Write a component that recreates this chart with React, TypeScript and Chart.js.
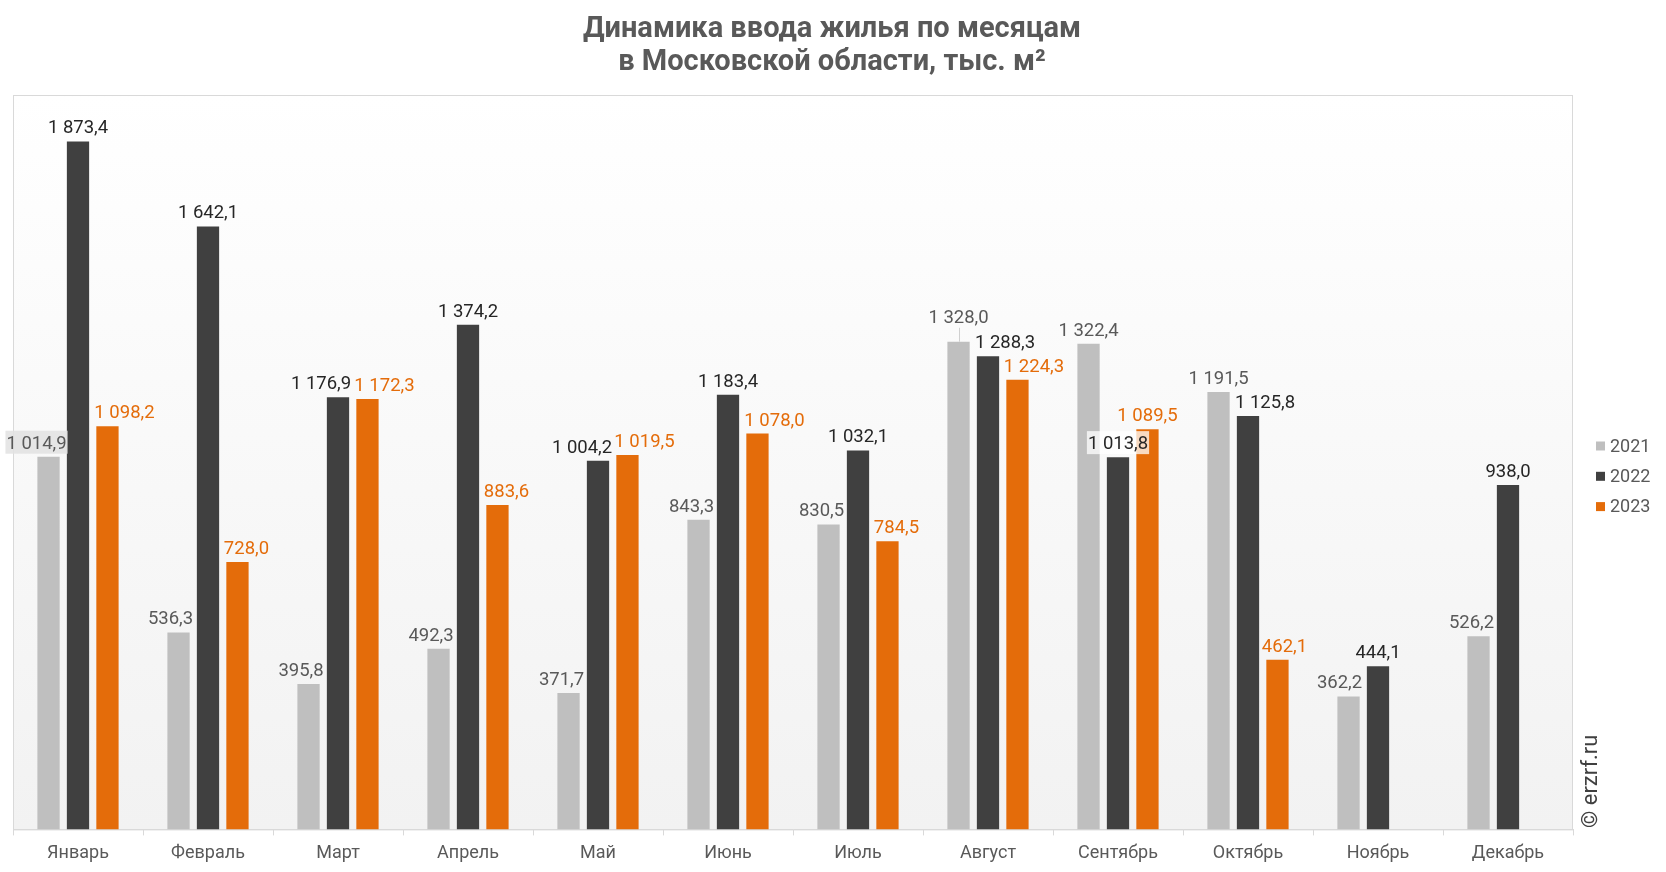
import React, { useEffect, useRef } from "react";
import { Chart, registerables } from "chart.js";

Chart.register(...registerables);

// ---------- data ----------
const categories = [
  "Январь", "Февраль", "Март", "Апрель", "Май", "Июнь",
  "Июль", "Август", "Сентябрь", "Октябрь", "Ноябрь", "Декабрь",
];
const seriesNames = ["2021", "2022", "2023"];
const values2021 = [1014.9, 536.3, 395.8, 492.3, 371.7, 843.3, 830.5, 1328.0, 1322.4, 1191.5, 362.2, 526.2];
const values2022 = [1873.4, 1642.1, 1176.9, 1374.2, 1004.2, 1183.4, 1032.1, 1288.3, 1013.8, 1125.8, 444.1, 938.0];
const values2023 = [1098.2, 728.0, 1172.3, 883.6, 1019.5, 1078.0, 784.5, 1224.3, 1089.5, 462.1, null, null];
const titleLines = ["Динамика ввода жилья по месяцам", "в Московской области, тыс. м²"];
const copyright = "© erzrf.ru";
const yMin = 0;
const yMax = 2000;

// ---------- styles ----------
const FONT = "Roboto, 'Noto Sans', sans-serif";
const barColors = ["#BFBFBF", "#404040", "#E46C0A"];
const labelColors = ["#595959", "#262626", "#E46C0A"];
// horizontal / vertical nudges of data labels (as placed in the original)
const labelDx = [
  [-12, -8, -7.5, -7.5, -7, -7, -7, 0, 0, 0, -9, -7],
  [0, 0, -17, 0, -16, 0, 0, 17, 0, 17, 0, 0],
  [17, 9, 17, 9, 17, 17, 9, 16.5, 0, 7, 0, 0],
];
const labelDy = [
  [0, 0, 0, 0, 0, 0, 0, -11, 0, 0, 0, 0],
  [0, 0, 0, 0, 0, 0, 0, 0, 0, 0, 0, 0],
  [0, 0, 0, 0, 0, 0, 0, 0, 0, 0, 0, 0],
];
const labelBg: Record<string, string> = {
  "0-0": "rgba(226,226,226,0.85)",
  "1-8": "rgba(255,255,255,0.75)",
};

const W = 1666;
const H = 872;

function fmt(v: number): string {
  const [i, d] = v.toFixed(1).split(".");
  return i.replace(/\B(?=(\d{3})+(?!\d))/g, " ") + "," + d;
}

const backgroundPlugin = {
  id: "bgPlot",
  beforeDraw(chart: any) {
    const { ctx, chartArea: a } = chart;
    ctx.save();
    ctx.fillStyle = "#FFFFFF";
    ctx.fillRect(0, 0, chart.width, chart.height);
    const g = ctx.createLinearGradient(0, a.top, 0, a.bottom);
    g.addColorStop(0, "#FFFFFF");
    g.addColorStop(1, "#F2F2F2");
    ctx.fillStyle = g;
    ctx.fillRect(a.left, a.top, a.right - a.left, a.bottom - a.top);
    ctx.strokeStyle = "#D9D9D9";
    ctx.lineWidth = 1;
    ctx.strokeRect(a.left + 0.5, a.top + 0.5, a.right - a.left - 1, a.bottom - a.top);
    ctx.restore();
  },
};

const labelPlugin = {
  id: "barLabels",
  afterDatasetsDraw(chart: any) {
    const ctx = chart.ctx;
    ctx.save();
    ctx.font = `18.5px ${FONT}`;
    ctx.textAlign = "center";
    ctx.textBaseline = "alphabetic";
    chart.data.datasets.forEach((ds: any, di: number) => {
      const meta = chart.getDatasetMeta(di);
      meta.data.forEach((el: any, i: number) => {
        const v = ds.data[i];
        if (v == null) return;
        const text = fmt(v);
        const dx = labelDx[di][i] || 0;
        const dy = labelDy[di][i] || 0;
        const x = el.x + dx;
        const y = el.y - 8 + dy;
        const w = ctx.measureText(text).width;
        const bg = labelBg[`${di}-${i}`];
        if (bg) {
          ctx.fillStyle = bg;
          ctx.fillRect(x - w / 2 - 1, y - 18, w + 2, 23);
        }
        if (dy < -4) {
          ctx.strokeStyle = "#D0D0D0";
          ctx.lineWidth = 1;
          ctx.beginPath();
          ctx.moveTo(Math.round(el.x) + 0.5, y + 5);
          ctx.lineTo(Math.round(el.x) + 0.5, el.y);
          ctx.stroke();
        }
        ctx.fillStyle = labelColors[di];
        ctx.fillText(text, x, y);
      });
    });
    ctx.restore();
  },
};

const decorPlugin = {
  id: "decor",
  afterDraw(chart: any) {
    const ctx = chart.ctx;
    ctx.save();
    // title
    ctx.fillStyle = "#595959";
    ctx.font = `bold 29px ${FONT}`;
    ctx.textAlign = "center";
    ctx.textBaseline = "alphabetic";
    ctx.fillText(titleLines[0], 832, 37);
    ctx.fillText(titleLines[1], 832, 70);
    // legend
    ctx.font = `18px ${FONT}`;
    ctx.textAlign = "left";
    ctx.textBaseline = "middle";
    seriesNames.forEach((name, i) => {
      const cy = 446 + i * 30.3;
      ctx.fillStyle = barColors[i];
      ctx.fillRect(1596, cy - 4.5, 9, 9);
      ctx.fillStyle = "#595959";
      ctx.fillText(name, 1610, cy + 1);
    });
    // copyright
    ctx.translate(1597, 828);
    ctx.rotate(-Math.PI / 2);
    ctx.font = `22px ${FONT}`;
    ctx.fillStyle = "#404040";
    ctx.textAlign = "left";
    ctx.textBaseline = "alphabetic";
    ctx.fillText(copyright, 0, 0);
    ctx.restore();
  },
};

export default function App() {
  const ref = useRef<HTMLCanvasElement | null>(null);
  useEffect(() => {
    if (!ref.current) return;
    const chart = new Chart(ref.current, {
      type: "bar",
      data: {
        labels: categories,
        datasets: [values2021, values2022, values2023].map((d, i) => ({
          label: seriesNames[i],
          data: d,
          backgroundColor: barColors[i],
          borderWidth: 0,
          categoryPercentage: 0.68,
          barPercentage: 0.756,
        })),
      },
      options: {
        responsive: false,
        animation: false,
        devicePixelRatio: 1,
        layout: { padding: { left: 13, right: 93, top: 95, bottom: 1 } },
        plugins: {
          legend: { display: false },
          title: { display: false },
          tooltip: { enabled: false },
        },
        scales: {
          x: {
            grid: {
              display: true,
              drawOnChartArea: false,
              drawTicks: true,
              tickLength: 6,
              color: "#D9D9D9",
              offset: true,
            },
            border: { display: true, color: "#D9D9D9", width: 1 },
            ticks: {
              color: "#595959",
              font: { family: FONT, size: 18 },
              padding: 7,
              maxRotation: 0,
              autoSkip: false,
            },
          },
          y: {
            display: false,
            min: yMin,
            max: yMax,
          },
        },
      },
      plugins: [backgroundPlugin, labelPlugin, decorPlugin],
    });
    return () => chart.destroy();
  }, []);
  return (
    <div style={{ position: "fixed", left: 0, top: 0, width: W, height: H, background: "#fff" }}>
      <canvas ref={ref} width={W} height={H} style={{ display: "block", width: W, height: H }} />
    </div>
  );
}
